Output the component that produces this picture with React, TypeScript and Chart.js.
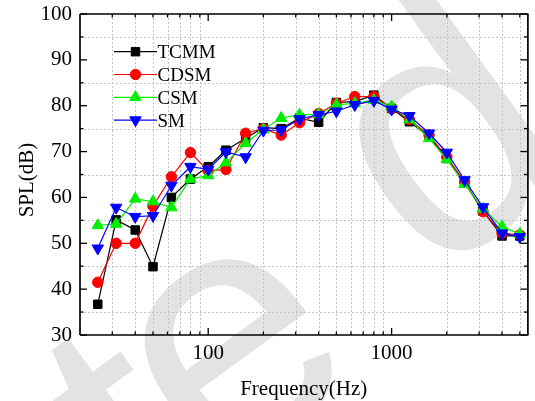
import React, { useEffect, useRef } from "react";
import { Chart, registerables } from "chart.js";

Chart.register(...registerables);

const frequencies = [25, 31.5, 40, 50, 63, 80, 100, 125, 160, 200, 250, 315, 400, 500, 630, 800, 1000, 1250, 1600, 2000, 2500, 3150, 4000, 5000];
const tcmm = [36.7, 55.1, 52.9, 44.9, 60.0, 64.0, 66.7, 70.3, 72.9, 75.2, 75.0, 77.3, 76.4, 80.7, 80.9, 82.3, 79.4, 76.5, 73.3, 68.5, 63.2, 57.0, 51.6, 51.6];
const cdsm = [41.5, 50.0, 50.0, 58.1, 64.5, 69.8, 65.8, 66.1, 74.0, 75.0, 73.6, 76.3, 78.3, 80.5, 82.0, 82.0, 79.4, 77.0, 73.6, 68.8, 63.4, 56.9, 52.2, 51.8];
const csm = [53.9, 54.2, 59.7, 59.1, 57.8, 64.0, 64.8, 67.6, 71.8, 74.8, 77.3, 78.0, 78.1, 80.2, 80.5, 81.2, 79.8, 77.0, 72.9, 68.3, 62.9, 57.5, 53.6, 52.0];
const sm = [48.9, 57.8, 55.8, 56.0, 62.6, 66.7, 66.1, 69.9, 68.8, 74.6, 74.7, 77.1, 78.0, 78.8, 80.2, 81.1, 79.2, 77.8, 74.0, 69.8, 63.8, 57.9, 52.2, 51.4];

const seriesNames = ["TCMM", "CDSM", "CSM", "SM"];
const seriesColors = ["#000000", "#ff0000", "#00ee00", "#0000ff"];

const xMajorTicks = [100, 1000];
const xMinorTicks = [20, 30, 40, 50, 60, 70, 80, 90, 200, 300, 400, 500, 600, 700, 800, 900, 2000, 3000, 4000, 5000];
const yMajorTicks = [30, 40, 50, 60, 70, 80, 90, 100];
const yMinorTicks = [35, 45, 55, 65, 75, 85, 95];

const X_MIN = 20;
const X_MAX = 5500;
const Y_MIN = 30;
const Y_MAX = 100;

const SERIF = '"Liberation Serif", "Times New Roman", serif';

const toPoints = (vals: number[]) => frequencies.map((f, i) => ({ x: f, y: vals[i] }));

function drawMarker(ctx: CanvasRenderingContext2D, style: string, r: number, rot: number, x: number, y: number) {
  ctx.beginPath();
  if (style === "rect") {
    const s = Math.SQRT1_2 * r;
    ctx.rect(x - s, y - s, 2 * s, 2 * s);
  } else if (style === "circle") {
    ctx.arc(x, y, r, 0, Math.PI * 2);
  } else {
    let rad = (rot * Math.PI) / 180;
    ctx.moveTo(x + Math.sin(rad) * r, y - Math.cos(rad) * r);
    rad += (2 * Math.PI) / 3;
    ctx.lineTo(x + Math.sin(rad) * r, y - Math.cos(rad) * r);
    rad += (2 * Math.PI) / 3;
    ctx.lineTo(x + Math.sin(rad) * r, y - Math.cos(rad) * r);
    ctx.closePath();
  }
  ctx.fill();
  ctx.stroke();
}

const watermarkPlugin = {
  id: "watermark",
  beforeDraw(chart: any) {
    const ctx = chart.ctx;
    ctx.save();
    ctx.fillStyle = "#e3e3e3";
    ctx.font = '350px "Liberation Sans", Arial, sans-serif';
    ctx.textBaseline = "alphabetic";
    ctx.textAlign = "left";
    const ang = (-36 * Math.PI) / 180;
    const glyphs: [string, number, number][] = [
      ["t", 155, 555],
      ["e", 212, 487],
      ["d", 430, 282],
    ];
    for (const [ch, ox, oy] of glyphs) {
      ctx.save();
      ctx.translate(ox, oy);
      ctx.rotate(ang);
      ctx.fillText(ch, 0, 0);
      ctx.restore();
    }
    ctx.restore();
  },
};

const gridPlugin = {
  id: "minorGrid",
  beforeDatasetsDraw(chart: any) {
    const { ctx, chartArea: a, scales } = chart;
    const xs = scales.x;
    const ys = scales.y;
    ctx.save();
    ctx.strokeStyle = "#c4c4c4";
    ctx.lineWidth = 1;
    ctx.setLineDash([2, 2]);
    for (const v of xMinorTicks) {
      const px = Math.round(xs.getPixelForValue(v)) + 0.5;
      if (px <= a.left + 1 || px >= a.right - 1) continue;
      ctx.beginPath();
      ctx.moveTo(px, a.top);
      ctx.lineTo(px, a.bottom);
      ctx.stroke();
    }
    for (const v of yMinorTicks) {
      const py = Math.round(ys.getPixelForValue(v)) + 0.5;
      ctx.beginPath();
      ctx.moveTo(a.left, py);
      ctx.lineTo(a.right, py);
      ctx.stroke();
    }
    ctx.restore();
  },
};

const framePlugin = {
  id: "originFrame",
  afterDraw(chart: any) {
    const { ctx, chartArea: a, scales } = chart;
    const xs = scales.x;
    const ys = scales.y;
    ctx.save();
    ctx.setLineDash([]);
    ctx.strokeStyle = "#000000";
    ctx.lineWidth = 1.3;
    const seg = (x1: number, y1: number, x2: number, y2: number) => {
      ctx.beginPath();
      ctx.moveTo(x1, y1);
      ctx.lineTo(x2, y2);
      ctx.stroke();
    };
    const MAJ = 7;
    const MIN = 3.5;
    xMajorTicks.forEach((v) => {
      const px = xs.getPixelForValue(v);
      seg(px, a.bottom, px, a.bottom - MAJ);
      seg(px, a.top, px, a.top + MAJ);
    });
    xMinorTicks.forEach((v) => {
      const px = xs.getPixelForValue(v);
      if (px > a.left + 1) {
        seg(px, a.bottom, px, a.bottom - MIN);
        seg(px, a.top, px, a.top + MIN);
      }
    });
    yMajorTicks.forEach((v) => {
      const py = ys.getPixelForValue(v);
      seg(a.left, py, a.left + MAJ, py);
      seg(a.right, py, a.right - MAJ, py);
    });
    yMinorTicks.forEach((v) => {
      const py = ys.getPixelForValue(v);
      seg(a.left, py, a.left + MIN, py);
      seg(a.right, py, a.right - MIN, py);
    });
    ctx.lineWidth = 1.7;
    seg(a.left, a.top, a.right + 1, a.top);
    seg(a.left, a.bottom, a.right + 1, a.bottom);
    seg(a.left, a.top, a.left, a.bottom);
    seg(a.right + 0.5, a.top, a.right + 0.5, a.bottom);

    // axis titles
    ctx.fillStyle = "#000";
    ctx.font = `21px ${SERIF}`;
    ctx.textAlign = "center";
    ctx.textBaseline = "alphabetic";
    ctx.fillText("Frequency(Hz)", (a.left + a.right) / 2, 395);
    ctx.save();
    ctx.translate(33, 180);
    ctx.rotate(-Math.PI / 2);
    ctx.fillText("SPL(dB)", 0, 0);
    ctx.restore();

    // legend
    const lineX1 = 114;
    const lineX2 = 157;
    const markX = 135.5;
    const textX = 157.5;
    ctx.font = `19px ${SERIF}`;
    ctx.textAlign = "left";
    chart.data.datasets.forEach((ds: any, i: number) => {
      const cy = 51.7 + i * 22.8;
      ctx.strokeStyle = ds.borderColor;
      ctx.lineWidth = 1.2;
      ctx.beginPath();
      ctx.moveTo(lineX1, cy);
      ctx.lineTo(lineX2, cy);
      ctx.stroke();
      ctx.fillStyle = ds.pointBackgroundColor;
      ctx.strokeStyle = ds.pointBorderColor;
      ctx.lineWidth = 1;
      drawMarker(ctx, ds.pointStyle, ds.pointRadius, ds.pointRotation || 0, markX, cy);
      ctx.fillStyle = "#000";
      ctx.fillText(seriesNames[i], textX, cy + 6.5);
    });
    ctx.restore();
  },
};

export default function App() {
  const canvasRef = useRef<HTMLCanvasElement | null>(null);

  useEffect(() => {
    document.body.style.margin = "0";
    const canvas = canvasRef.current;
    if (!canvas) return;
    const styles = [
      { style: "rect", radius: 6, rotation: 0 },
      { style: "circle", radius: 5.2, rotation: 0 },
      { style: "triangle", radius: 6.6, rotation: 0 },
      { style: "triangle", radius: 6.6, rotation: 180 },
    ];
    const values = [tcmm, cdsm, csm, sm];
    const datasets = values.map((vals, i) => ({
      label: seriesNames[i],
      data: toPoints(vals),
      borderColor: seriesColors[i],
      backgroundColor: seriesColors[i],
      pointBackgroundColor: seriesColors[i],
      pointBorderColor: seriesColors[i],
      pointBorderWidth: 1,
      pointStyle: styles[i].style,
      pointRadius: styles[i].radius,
      pointRotation: styles[i].rotation,
      borderWidth: 1.2,
      tension: 0,
      fill: false,
      order: 3 - i,
    }));

    const chart = new Chart(canvas, {
      type: "line",
      data: { datasets },
      options: {
        responsive: false,
        animation: false,
        devicePixelRatio: 1,
        layout: { padding: { left: 0, right: 0, top: 14, bottom: 0 } },
        plugins: {
          legend: { display: false },
          tooltip: { enabled: false },
        },
        scales: {
          x: {
            type: "logarithmic",
            min: X_MIN,
            max: X_MAX,
            afterBuildTicks: (s: any) => {
              s.ticks = [...xMinorTicks, ...xMajorTicks].sort((a, b) => a - b).map((v) => ({ value: v }));
            },
            afterFit: (s: any) => {
              s.height = 66;
              s.paddingLeft = 0;
              s.paddingRight = 0;
              s.paddingTop = 0;
              s.paddingBottom = 0;
            },
            ticks: {
              autoSkip: false,
              maxRotation: 0,
              minRotation: 0,
              padding: 6,
              color: "#000",
              font: { family: SERIF, size: 21 },
              callback: (v: any) => (xMajorTicks.includes(Number(v)) ? String(v) : ""),
            },
            grid: { display: false, drawTicks: false },
            border: { display: false },
          },
          y: {
            type: "linear",
            min: Y_MIN,
            max: Y_MAX,
            afterBuildTicks: (s: any) => {
              s.ticks = yMajorTicks.map((v) => ({ value: v }));
            },
            afterFit: (s: any) => {
              s.width = 80;
              s.paddingLeft = 0;
              s.paddingRight = 0;
              s.paddingTop = 0;
              s.paddingBottom = 0;
            },
            ticks: {
              padding: 8,
              color: "#000",
              font: { family: SERIF, size: 21 },
              callback: (v: any) => String(v),
            },
            grid: { display: false, drawTicks: false },
            border: { display: false },
          },
        },
      } as any,
      plugins: [watermarkPlugin, gridPlugin, framePlugin],
    });
    return () => chart.destroy();
  }, []);

  return (
    <div style={{ position: "fixed", left: 0, top: 0, width: 535, height: 401, background: "#fff" }}>
      <canvas ref={canvasRef} width={535} height={401} style={{ width: 535, height: 401, display: "block" }} />
    </div>
  );
}
